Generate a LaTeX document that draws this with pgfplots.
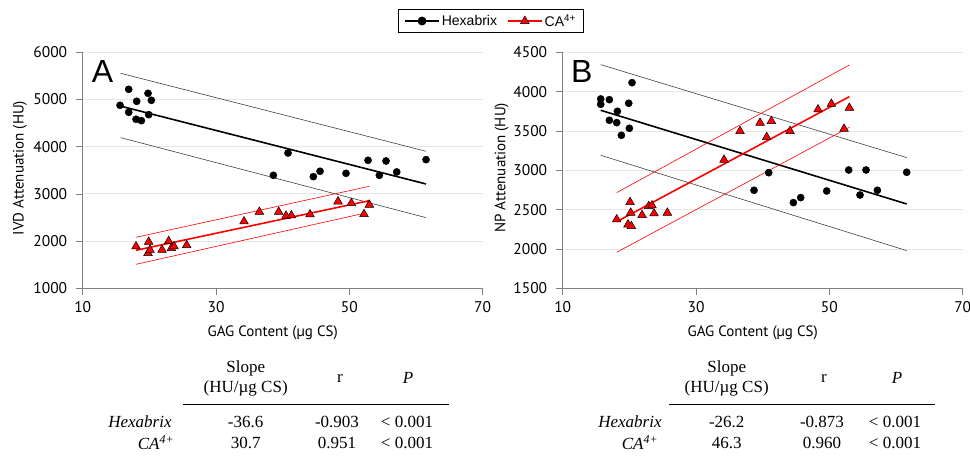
\documentclass[border=0pt]{standalone}
\usepackage{pgfplots}
\pgfplotsset{compat=1.18}
\usepackage{fontspec}
\setmainfont{Liberation Serif}
\newfontfamily\axfont{PT Sans}
\newfontfamily\legfont{Liberation Sans}
\newfontfamily\tabfont{Liberation Serif}

\definecolor{axgray}{HTML}{808080}
\definecolor{gridgray}{HTML}{E6E6E6}

\pgfplotsset{
  panel/.style={
    anchor=south west, scale only axis,
    width=400pt, height=236pt,
    xmin=10, xmax=70, xtick={10,30,50,70},
    axis x line*=bottom, axis y line*=left,
    tick align=outside, major tick length=7pt,
    axis line style={axgray, line width=0.8pt},
    tick style={axgray, line width=0.8pt},
    ymajorgrids, grid style={gridgray, line width=0.9pt},
    ticklabel style={font=\axfont\fontsize{15.5}{17}\selectfont, black},
    xticklabel style={yshift=-3pt},
    yticklabel style={xshift=-5pt},
    /pgf/number format/assume math mode=true,
    /pgf/number format/1000 sep={},
    label style={font=\axfont\fontsize{15}{17}\selectfont},
    xlabel={GAG Content (µg CS)},
    xlabel style={at={(axis description cs:0.5,0)}, anchor=center, yshift=-45pt, xshift=-10pt},
    clip=false,
  },
  hexa/.style={only marks, mark=*, mark size=3.6pt, black},
  ca/.style={only marks, mark=triangle*, mark size=5pt, mark options={fill=red, draw=black, line width=0.5pt}},
  fitk/.style={black, line width=1.6pt},
  bandk/.style={black!75, line width=0.6pt},
  fitr/.style={red, line width=1.6pt},
  bandr/.style={red, line width=0.6pt},
}

\begin{document}
\begin{tikzpicture}
\useasboundingbox (0pt,0pt) rectangle (970pt,-460pt);

% ---------- panel A ----------
\begin{axis}[panel, at={(82.7pt,-288.3pt)},
  ymin=1000, ymax=6000, ytick={1000,2000,...,6000},
  ylabel={IVD Attenuation (HU)},
  ylabel style={at={(axis description cs:-0.157,0.51)}, anchor=center},
  legend style={at={(axis description cs:1.0208,1.1326)}, anchor=center,
    legend columns=2, draw=black, line width=0.8pt,
    font=\legfont\fontsize{14}{16}\selectfont,
    /tikz/every even column/.append style={column sep=8pt},
    inner xsep=6pt, inner ysep=3pt},
  legend image code/.code={\draw[#1, mark repeat=2, mark phase=2]
    plot coordinates {(0pt,0pt) (17pt,0pt) (34pt,0pt)};},
]
\addlegendimage{black, line width=1.6pt, mark=*, mark size=3.6pt}
\addlegendentry{Hexabrix}
\addlegendimage{red, line width=1.6pt, mark=triangle*, mark size=5pt, mark options={fill=red, draw=black, line width=0.5pt}}
\addlegendentry{CA\textsuperscript{4+}}

\addplot[bandk, forget plot] coordinates {(15.7,5555) (61.5,3903)};
\addplot[bandk, forget plot] coordinates {(15.7,4192) (61.5,2497)};
\addplot[fitk, forget plot] coordinates {(15.6,4863) (61.5,3210)};
\addplot[bandr, forget plot] coordinates {(18.0,2081) (53.0,3161)};
\addplot[bandr, forget plot] coordinates {(18.0,1508) (52.2,2589)};
\addplot[fitr, forget plot] coordinates {(18.0,1805) (53.0,2857)};

\addplot[hexa, forget plot] coordinates {
  (15.6,4877) (16.9,5216) (16.9,4729) (18.1,4962) (18.0,4581) (18.8,4552)
  (19.8,5131) (20.3,4983) (19.9,4679) (38.6,3394) (40.8,3867) (44.6,3366)
  (45.6,3479) (49.5,3436) (52.8,3712) (54.5,3394) (55.5,3698) (57.1,3465)
  (61.5,3726)};
\addplot[ca, forget plot] coordinates {
  (18.0,1886) (19.9,1985) (19.8,1745) (20.1,1815) (21.9,1815) (22.9,1999)
  (23.3,1851) (23.7,1886) (25.6,1914) (34.2,2416) (36.5,2620) (39.4,2620)
  (40.5,2536) (41.3,2543) (44.1,2564) (48.3,2839) (50.3,2804) (52.2,2571)
  (53.0,2769)};
\end{axis}

% ---------- panel B ----------
\begin{axis}[panel, at={(562.7pt,-288.3pt)},
  ymin=1500, ymax=4500, ytick={1500,2000,...,4500},
  ylabel={NP Attenuation (HU)},
  ylabel style={at={(axis description cs:-0.1525,0.51)}, anchor=center},
]
\addplot[bandk] coordinates {(15.7,4343) (61.6,3161)};
\addplot[bandk] coordinates {(15.7,3191) (61.6,1979)};
\addplot[fitk] coordinates {(15.7,3763) (61.6,2572)};
\addplot[bandr] coordinates {(18.1,2716) (53.0,4339)};
\addplot[bandr] coordinates {(18.1,1958) (53.0,3547)};
\addplot[fitr] coordinates {(18.1,2347) (53.0,3936)};

\addplot[hexa] coordinates {
  (15.7,3907) (15.7,3839) (17.0,3898) (18.2,3750) (17.0,3636) (18.1,3606)
  (18.8,3445) (19.9,3852) (20.0,3534) (20.4,4114) (38.7,2746) (40.9,2970)
  (44.6,2589) (45.7,2653) (49.6,2737) (52.9,3004) (54.6,2686) (55.5,3004)
  (57.2,2746) (61.6,2975)};
\addplot[ca] coordinates {
  (18.1,2375) (20.1,2595) (20.2,2460) (19.8,2311) (20.3,2290) (21.9,2430)
  (22.9,2544) (23.4,2553) (23.7,2451) (25.7,2460) (34.2,3133) (36.6,3498)
  (39.6,3604) (41.3,3625) (40.6,3421) (44.1,3498) (48.3,3773) (50.3,3845)
  (52.2,3527) (53.0,3794)};
\end{axis}

% panel letters
\node[font=\legfont\fontsize{32}{34}\selectfont] at (102.5pt,-71.5pt) {A};
\node[font=\legfont\fontsize{32}{34}\selectfont] at (581.7pt,-71.5pt) {B};

% tables
\begin{scope}[every node/.style={font=\tabfont\fontsize{17}{19}\selectfont, inner sep=0pt}]
  % A
  \node at (245.7pt,-368pt) {Slope};
  \node at (245.7pt,-388pt) {(HU/µg CS)};
  \node at (340pt,-378pt) {r};
  \node at (408pt,-378pt) {\textit{P}};
  \draw[line width=0.8pt] (183pt,-404pt) -- (449pt,-404pt);
  \node at (140pt,-422pt) {\textit{Hexabrix}};
  \node at (245.7pt,-422pt) {-36.6};
  \node at (337pt,-422pt) {-0.903};
  \node at (407pt,-422pt) {< 0.001};
  \node at (156pt,-443pt) {\textit{CA}\textsuperscript{\textit{4+}}};
  \node at (245.7pt,-443pt) {30.7};
  \node at (337pt,-443pt) {0.951};
  \node at (407pt,-443pt) {< 0.001};
  % B
  \node at (726.7pt,-368pt) {Slope};
  \node at (726.7pt,-388pt) {(HU/µg CS)};
  \node at (824pt,-378pt) {r};
  \node at (897pt,-378pt) {\textit{P}};
  \draw[line width=0.8pt] (669pt,-404pt) -- (935pt,-404pt);
  \node at (630pt,-422pt) {\textit{Hexabrix}};
  \node at (726.7pt,-422pt) {-26.2};
  \node at (822pt,-422pt) {-0.873};
  \node at (895pt,-422pt) {< 0.001};
  \node at (640pt,-443pt) {\textit{CA}\textsuperscript{\textit{4+}}};
  \node at (726.7pt,-443pt) {46.3};
  \node at (822pt,-443pt) {0.960};
  \node at (895pt,-443pt) {< 0.001};
\end{scope}
\end{tikzpicture}
\end{document}
